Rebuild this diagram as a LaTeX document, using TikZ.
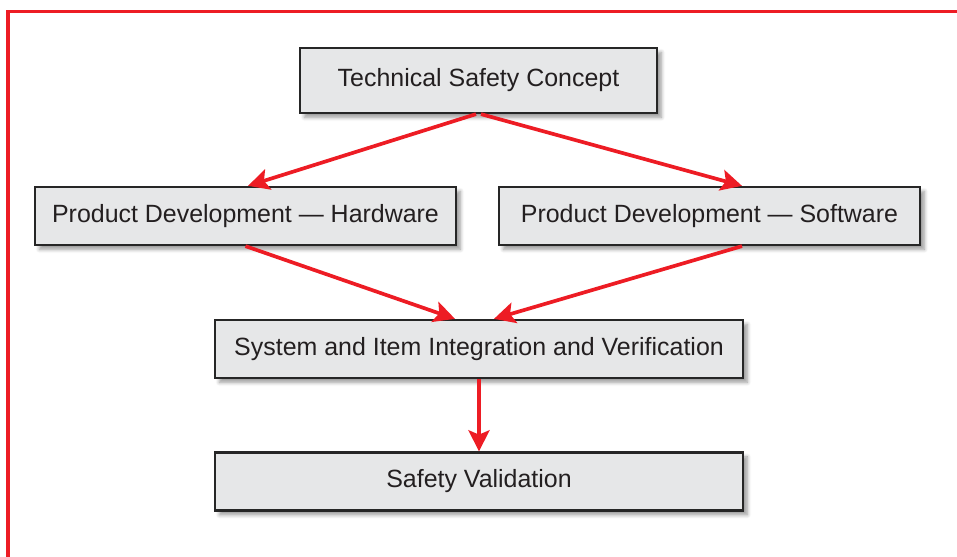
\documentclass[tikz,border=0pt]{standalone}
\usepackage{fontspec}
\setmainfont{Liberation Sans}
\usetikzlibrary{arrows.meta,shadows.blur,positioning}
\definecolor{myred}{RGB}{237,28,36}
\definecolor{myboxgray}{RGB}{230,231,232}
\definecolor{mytext}{RGB}{35,31,32}

\begin{document}
\begin{tikzpicture}[
  x=0.02cm, y=0.02cm,
  myarrow/.style={
    draw=myred,
    line width=2.1pt,
    -{Stealth[length=12pt,width=12pt,inset=2.5pt,fill=myred]}
    },
  mybox/.style={
    draw=black!85,
    line width=1.3pt,
    fill=myboxgray,
    text=mytext,
    font=\fontsize{14.2}{17}\selectfont,
    minimum height=1.16cm,
    inner sep=0pt,
    blur shadow={shadow blur steps=6, shadow xshift=2.5pt, shadow yshift=-2.5pt}
    }
]
\useasboundingbox (0,0) rectangle (957,557);
% red frame
\draw [myred, line width=1.8pt] (8,0) -- (8,545.5) -- (957,545.5);

\node [mybox, minimum width=7.14cm, minimum height=1.3cm] (tsc) at (478.5,476.5) {Technical Safety Concept};
\node [mybox, minimum width=8.42cm] (hw) at (245.5,341) {Product Development --- Hardware};
\node [mybox, minimum width=8.42cm] (sw) at (709.5,341) {Product Development --- Software};
\node [mybox, minimum width=10.56cm] (int) at (479,208) {System and Item Integration and Verification};
\node [mybox, minimum width=10.56cm] (val) at (479,75.5) {Safety Validation};

\draw [myarrow] ([xshift=-0.05cm]tsc.south) -- ([xshift=0.05cm]hw.north);
\draw [myarrow] ([xshift=0.05cm]tsc.south) -- ([xshift=0.65cm]sw.north);
\draw [myarrow] (hw.south) -- ([xshift=-0.48cm]int.north);
\draw [myarrow] ([xshift=0.65cm]sw.south) -- ([xshift=0.3cm]int.north);
\draw [myarrow] (int.south) -- (val.north);

\end{tikzpicture}
\end{document}
